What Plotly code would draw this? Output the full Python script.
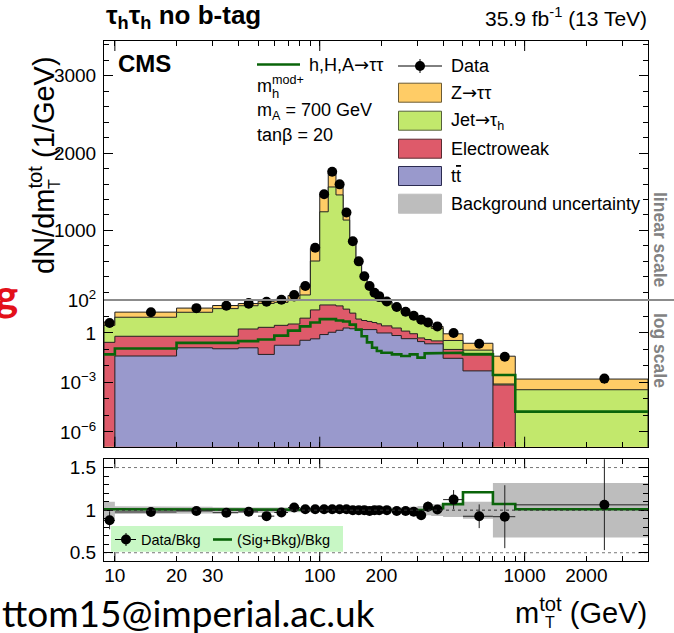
import numpy as np
import plotly.graph_objects as go

# ---------------- chart values ----------------
bin_edges = [8.85, 10, 20, 30, 40, 50, 60, 70, 80, 90, 100, 110, 120, 130, 140, 150,
             160, 170, 180, 190, 200, 225, 250, 275, 300, 325, 350, 400, 500, 700, 900, 4000]

ttbar = [0, 0.04, 0.126, 0.11, 0.126, 0.05, 0.18, 0.18, 0.36, 0.44, 0.8, 1.1, 1.45, 2.0,
         1.8, 1.6, 1.6, 1.6, 1.6, 1.0, 1.0, 0.7, 0.45, 0.45, 0.3, 0.22, 0.22, 0.029,
         0.005, 0, 0]
electroweak = [0.27, 0.59, 0.504, 0.52, 1.614, 2.15, 2.72, 3.32, 7.54, 24.56, 49.2, 48.9,
               42.55, 26, 14.2, 5.4, 4.1, 3.4, 2.7, 2.6, 1.7, 1.3, 0.85, 0.45, 0.2, 0.18,
               0.11, 0.071, 0.053, 0.0007, 0]
jet_fakes = [2.63, 8.37, 17.37, 29.37, 43.26, 59.8, 69.1, 106.5, 157.1, 579, 1191, 1512,
             1415, 1106, 834, 583, 394.3, 267, 181.7, 136.4, 72.3, 32, 15.7, 9.1, 5.5, 3.2,
             1.57, 0.25, 0.033, 0.0001, 0.00036]
ztt = [1.7, 9.4, 14.3, 16.4, 16.2, 21.9, 35, 49, 112, 164, 212, 178, 121, 86, 10, 10, 8,
       11, 8, 10, 6, 4.4, 2.7, 1.2, 0.7, 0.53, 0.58, 0.54, 0.146, 0.0382, 0.00124]
data = [4.05, 18, 32, 45, 60, 78, 104, 164, 280, 776, 1468, 1758, 1596, 1232, 860, 600,
        408, 280, 194, 150, 81, 38, 19.5, 11, 6.3, 4.3, 2.5, 1.0, 0.22, 0.036, 0.0017]
data_err_up_rel = [0.12, 0.04, 0.03, 0.03, 0.03, 0.03, 0.025, 0.02, 0.015, 0.01, 0.01, 0.01,
                   0.01, 0.01, 0.01, 0.01, 0.015, 0.02, 0.02, 0.025, 0.025, 0.03, 0.04, 0.05,
                   0.06, 0.06, 0.05, 0.10, 0.15, 0.40, 0.60]
data_err_dn_rel = [0.12, 0.04, 0.03, 0.03, 0.03, 0.03, 0.025, 0.02, 0.015, 0.01, 0.01, 0.01,
                   0.01, 0.01, 0.01, 0.01, 0.015, 0.02, 0.02, 0.025, 0.025, 0.03, 0.04, 0.05,
                   0.06, 0.06, 0.05, 0.10, 0.15, 0.40, 0.50]
signal = [0.05, 0.115, 0.25, 0.25, 0.32, 0.40, 0.69, 1.38, 2.5, 4.3, 6.9, 7.0, 5.7, 5.0, 3.2,
          1.6, 0.63, 0.27, 0.126, 0.08, 0.063, 0.05, 0.04, 0.05, 0.032, 0.058, 0.058, 0.063,
          0.05, 0.0028, 1.7e-5]
bkg_unc_rel = [0.10, 0.045, 0.04, 0.035, 0.03, 0.03, 0.03, 0.025, 0.02, 0.02, 0.02, 0.02,
               0.02, 0.02, 0.02, 0.02, 0.02, 0.02, 0.025, 0.025, 0.03, 0.03, 0.035, 0.04,
               0.05, 0.06, 0.07, 0.08, 0.10, 0.32, 0.32]

x_tick_vals = [10, 20, 30, 100, 200, 1000, 2000]
x_tick_text = ["10", "20", "30", "100", "200", "1000", "2000"]
x_minor_vals = [40, 50, 60, 70, 80, 90, 300, 400, 500, 600, 700, 800, 900, 3000, 4000]
x_long_ticks = [10, 100, 1000]
ylog_tick_vals = [1e-6, 1e-3, 1, 100]
ylog_tick_text = ["10<sup>\u22126</sup>", "10<sup>\u22123</sup>", "1", "10<sup>2</sup>"]
ylog_minor_vals = [1e-7, 1e-5, 1e-4, 1e-2, 1e-1, 10]
ylin_tick_vals = [1000, 2000, 3000]
ylin_minor_vals = [v for v in range(200, 3450, 200) if v % 1000 != 0]
yrat_tick_vals = [0.5, 1, 1.5]
yrat_tick_text = ["0.5", "1", "1.5"]

# ---------------- geometry helpers ----------------
W, H = 674, 633
ML, MR, MT, MB = 104, 26, 41, 72
PW, PH = W - ML - MR, H - MT - MB


def px(x):
    return (x - ML) / PW


def py(y):
    return (H - MB - y) / PH


Y_SPLIT, Y_MAIN_BOT, Y_RAT_TOP = 300, 446.7, 459.3
XLO, XHI = np.log10(bin_edges[0]), np.log10(bin_edges[-1])


def xpaper(v):
    return (np.log10(v) - XLO) / (XHI - XLO)


n = len(data)
c1 = np.array(ttbar, float)
c2 = c1 + np.array(electroweak)
c3 = c2 + np.array(jet_fakes)
c4 = c3 + np.array(ztt)
total = c4
centers = [(bin_edges[i] + bin_edges[i + 1]) / 2 for i in range(n)]
halfw = [(bin_edges[i + 1] - bin_edges[i]) / 2 for i in range(n)]


def steps(vals):
    xs, ys = [], []
    for i, v in enumerate(vals):
        xs += [bin_edges[i], bin_edges[i + 1]]
        ys += [v, v]
    return xs, ys


def poly(vals, floor):
    vals = [max(v, floor) for v in vals]
    xs, ys = steps(vals)
    return xs + [bin_edges[-1], bin_edges[0], bin_edges[0]], ys + [floor, floor, ys[0]]


C_ZTT, C_JET, C_EWK, C_TT = "#ffcc66", "#c2e86c", "#de5a6a", "#9999cc"
C_SIG, OUT = "#0a640a", "#222222"

fig = go.Figure()

for (xa, ya, floor) in [("x", "y", 1e-12), ("x2", "y2", 0.0)]:
    for vals, col in [(c4, C_ZTT), (c3, C_JET), (c2, C_EWK), (c1, C_TT)]:
        xs, ys = poly(list(vals), floor)
        fig.add_trace(go.Scatter(x=xs, y=ys, mode="lines", fill="toself", fillcolor=col,
                                 line=dict(color=OUT, width=1), xaxis=xa, yaxis=ya,
                                 hoverinfo="skip"))
    sx, sy = steps(signal)
    fig.add_trace(go.Scatter(x=sx, y=sy, mode="lines", line=dict(color=C_SIG, width=2.6),
                             xaxis=xa, yaxis=ya))
    fig.add_trace(go.Scatter(
        x=centers, y=data, mode="markers", xaxis=xa, yaxis=ya,
        marker=dict(color="black", size=10),
        error_y=dict(type="data", symmetric=False,
                     array=[d * e for d, e in zip(data, data_err_up_rel)],
                     arrayminus=[d * e for d, e in zip(data, data_err_dn_rel)],
                     color="black", thickness=1, width=0)))

# ratio panel
band_hi = [1 + u for u in bkg_unc_rel]
band_lo = [1 - u for u in bkg_unc_rel]
hx, hy = steps(band_hi)
lx, ly = steps(band_lo)
fig.add_trace(go.Scatter(x=hx + lx[::-1] + [hx[0]], y=hy + ly[::-1] + [hy[0]], mode="lines",
                         fill="toself", fillcolor="#bdbdbd", line=dict(width=0),
                         xaxis="x3", yaxis="y3"))
sbr = [(t + s) / t for t, s in zip(total, signal)]
rx, ry = steps(sbr)
fig.add_trace(go.Scatter(x=rx, y=ry, mode="lines", line=dict(color=C_SIG, width=2.6),
                         xaxis="x3", yaxis="y3"))
ratio = [d / t for d, t in zip(data, total)]
fig.add_trace(go.Scatter(
    x=centers, y=ratio, mode="markers", xaxis="x3", yaxis="y3",
    marker=dict(color="black", size=10),
    error_x=dict(type="data", array=halfw, color="#222", thickness=1, width=0),
    error_y=dict(type="data", symmetric=False,
                 array=[r * e for r, e in zip(ratio, data_err_up_rel)],
                 arrayminus=[r * e for r, e in zip(ratio, data_err_dn_rel)],
                 color="#222", thickness=1, width=0)))

# ---------------- axes ----------------
FONT = "Liberation Sans, Arial, sans-serif"
xbase = dict(type="log", range=[XLO, XHI], domain=[0, 1], showgrid=False, zeroline=False,
             showline=True, linecolor="black", linewidth=1, ticks="inside", ticklen=5,
             tickcolor="black", tickvals=x_tick_vals, ticktext=x_tick_text,
             minor=dict(tickvals=x_minor_vals, ticks="inside", ticklen=5, tickcolor="black",
                        showgrid=False))
ybase = dict(showgrid=False, zeroline=False, showline=True, linecolor="black", linewidth=1,
             ticks="inside", ticklen=9, tickcolor="black", mirror="ticks",
             tickfont=dict(size=19), ticklabelstandoff=3)

fig.update_layout(
    width=W, height=H, autosize=False, margin=dict(l=ML, r=MR, t=MT, b=MB),
    paper_bgcolor="white", plot_bgcolor="white", showlegend=False,
    font=dict(family=FONT, size=19, color="black"),
    xaxis=dict(xbase, anchor="y", showticklabels=False),
    xaxis2=dict(xbase, anchor="y2", side="top", showticklabels=False),
    xaxis3=dict(xbase, anchor="y3", mirror="ticks", tickfont=dict(size=19),
                ticklabelstandoff=-3),
    yaxis=dict(ybase, type="log", range=[-6.9, 2.0], domain=[py(Y_MAIN_BOT), py(Y_SPLIT)],
               anchor="x", tickvals=ylog_tick_vals, ticktext=ylog_tick_text,
               minor=dict(tickvals=ylog_minor_vals, ticks="inside", ticklen=5,
                          tickcolor="black")),
    yaxis2=dict(ybase, range=[100, 3450], domain=[py(Y_SPLIT), 1], anchor="x2",
                tickvals=ylin_tick_vals,
                minor=dict(tickvals=ylin_minor_vals, ticks="inside", ticklen=5,
                           tickcolor="black")),
    yaxis3=dict(ybase, range=[0.403, 1.597], domain=[0, py(Y_RAT_TOP)], anchor="x3",
                tickvals=yrat_tick_vals, ticktext=yrat_tick_text,
                minor=dict(dtick=0.1, ticks="inside", ticklen=5, tickcolor="black")),
)

shapes = []
# split line between linear and log parts
shapes.append(dict(type="line", xref="paper", yref="paper", x0=0, x1=px(W), y0=py(Y_SPLIT),
                   y1=py(Y_SPLIT), line=dict(color="#8c8c8c", width=2), layer="above"))
# long ticks at decades
for v in x_long_ticks:
    xp = xpaper(v)
    for (ya, yb) in [(Y_MAIN_BOT, Y_MAIN_BOT - 10), (MT, MT + 10), (H - MB, H - MB - 9),
                     (Y_RAT_TOP, Y_RAT_TOP + 9)]:
        shapes.append(dict(type="line", xref="paper", yref="paper", x0=xp, x1=xp,
                           y0=py(ya), y1=py(yb), line=dict(color="black", width=1),
                           layer="above"))
# ratio reference lines
for v, col, lay in [(0.5, "#777777", "below"), (1.5, "#777777", "below"),
                    (1.0, "#333333", "above")]:
    shapes.append(dict(type="line", xref="x3 domain", yref="y3", x0=0, x1=1, y0=v, y1=v,
                       line=dict(color=col, width=1, dash="dot"), layer=lay))
# ratio legend
shapes.append(dict(type="rect", xref="paper", yref="paper", x0=px(111), x1=px(343),
                   y0=py(551.7), y1=py(526), fillcolor="#c8f7c5", line=dict(width=0),
                   layer="above"))
shapes.append(dict(type="line", xref="paper", yref="paper", x0=px(115), x1=px(136),
                   y0=py(539.5), y1=py(539.5), line=dict(color="black", width=1)))
shapes.append(dict(type="line", xref="paper", yref="paper", x0=px(126), x1=px(126),
                   y0=py(533), y1=py(546), line=dict(color="black", width=1)))
shapes.append(dict(type="circle", xref="paper", yref="paper", x0=px(121), x1=px(131),
                   y0=py(544.5), y1=py(534.5), fillcolor="black", line=dict(width=0)))
shapes.append(dict(type="line", xref="paper", yref="paper", x0=px(213), x1=px(232),
                   y0=py(539.5), y1=py(539.5), line=dict(color=C_SIG, width=2.6)))
# main legend
shapes.append(dict(type="line", xref="paper", yref="paper", x0=px(257), x1=px(300),
                   y0=py(64.5), y1=py(64.5), line=dict(color=C_SIG, width=2.6)))
shapes.append(dict(type="line", xref="paper", yref="paper", x0=px(398), x1=px(442),
                   y0=py(66), y1=py(66), line=dict(color="black", width=1)))
shapes.append(dict(type="line", xref="paper", yref="paper", x0=px(420), x1=px(420),
                   y0=py(59), y1=py(73), line=dict(color="black", width=1)))
shapes.append(dict(type="circle", xref="paper", yref="paper", x0=px(415), x1=px(425),
                   y0=py(71), y1=py(61), fillcolor="black", line=dict(width=0)))
legend_boxes = [(92.7, C_ZTT, "#6b5a33"), (120.7, C_JET, "#55603a"), (148.7, C_EWK, "#5a2a30"),
                (176, C_TT, "#2a2a50"), (203.7, "#bdbdbd", "#bdbdbd")]
for yc, fc, lc in legend_boxes:
    shapes.append(dict(type="rect", xref="paper", yref="paper", x0=px(398.5), x1=px(441.5),
                       y0=py(yc + 9.5), y1=py(yc - 9.5), fillcolor=fc,
                       line=dict(color=lc, width=1)))
fig.update_layout(shapes=shapes)

ann = []


def text(x, y, s, size, xanchor="left", yanchor="middle", color="black", angle=0,
         family=FONT):
    ann.append(dict(x=px(x), y=py(y), xref="paper", yref="paper", text=s, showarrow=False,
                    xanchor=xanchor, yanchor=yanchor, textangle=angle,
                    font=dict(size=size, color=color, family=family)))


ARROW = "<span style='font-family:DejaVu Sans'>\u2192</span>"
text(104, 17, "<b>\u03c4<sub>h</sub>\u03c4<sub>h</sub> no b-tag</b>", 26)
text(649, 17, "35.9 fb<sup>-1</sup> (13 TeV)", 21, xanchor="right")
text(116, 64, "<b>CMS</b>", 24)
text(307, 65, "h,H,A" + ARROW + "\u03c4\u03c4", 18)
text(255, 84, "m<sup>mod+</sup>", 18)
text(270, 94, "h", 13)
text(255, 112, "m<sub>A</sub> = 700 GeV", 18)
text(255, 135, "tan\u03b2 = 20", 18)
text(449, 66, "Data", 18)
text(449, 93, "Z" + ARROW + "\u03c4\u03c4", 18)
text(449, 121, "Jet" + ARROW + "\u03c4<sub>h</sub>", 18)
text(449, 149, "Electroweak", 18)
text(449, 176, "t<span style='text-decoration:overline'>t</span>", 18)
text(449, 204, "Background uncertainty", 18)
text(139, 539.5, "Data/Bkg", 14.5)
text(235, 539.5, "(Sig+Bkg)/Bkg", 14.5)
text(660, 240, "<b>linear scale</b>", 17.5, xanchor="center", color="#828282", angle=90)
text(660, 350, "<b>log scale</b>", 17.5, xanchor="center", color="#828282", angle=90)
text(649, 611, "m<sup>tot</sup> (GeV)", 29, xanchor="right")
text(543, 622, "T", 16)
text(42, 165, "dN/dm<sup>tot</sup> (1/GeV)", 29, xanchor="center", angle=-90)
text(54, 184, "T", 16, xanchor="center", angle=-90)
text(0, 612, "ttom15@imperial.ac.uk", 37, family="Lato")
text(20, 294, "<b>g</b>", 44, xanchor="right", color="#e3101a", family="Lato")
fig.update_layout(annotations=ann)

fig.write_html("out.html")
